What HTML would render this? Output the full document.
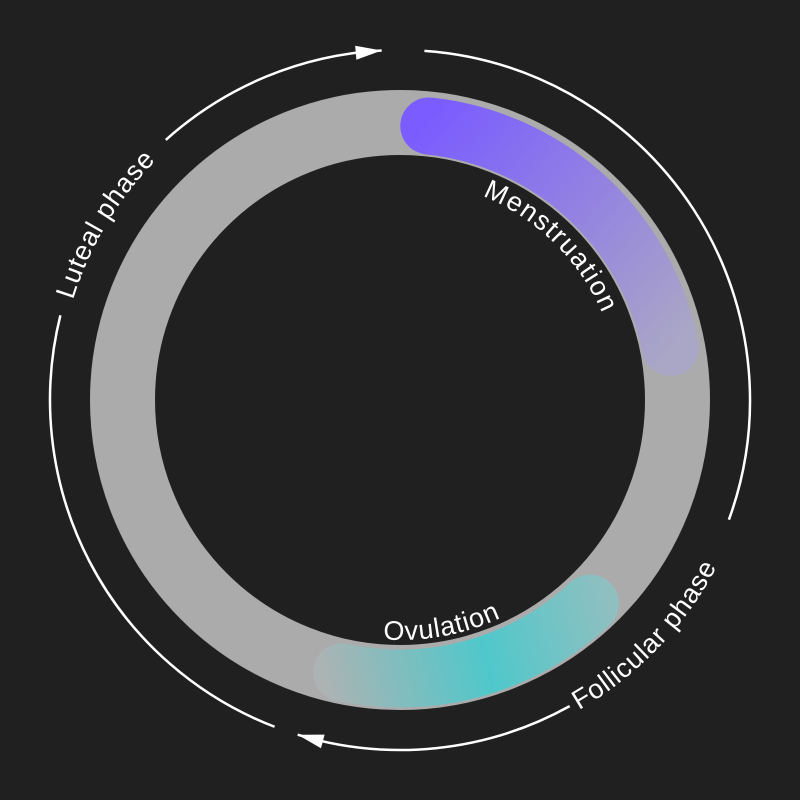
<!DOCTYPE html>
<html><head><meta charset="utf-8"><style>
html,body{margin:0;padding:0;background:#202020;}
svg{display:block;}
text{font-family:"Liberation Sans",sans-serif;fill:#fff;font-size:27px;letter-spacing:0.8px;}
</style></head><body>
<svg id="c" width="800" height="800" viewBox="0 0 800 800">
<defs>
<linearGradient id="gm" gradientUnits="userSpaceOnUse" x1="420" y1="125" x2="670" y2="350">
<stop offset="0" stop-color="#7a5cff"/><stop offset="1" stop-color="#aaa6c6"/></linearGradient>
<linearGradient id="go" gradientUnits="userSpaceOnUse" x1="320" y1="670" x2="610" y2="600">
<stop offset="0" stop-color="#adb3b3"/><stop offset="0.55" stop-color="#4fc8cb"/><stop offset="1" stop-color="#90bfc0"/></linearGradient>
</defs>
<g id="g"></g>
</svg>
<script>
// phase data: [startDeg, endDeg] clockwise from top
const ringRadii=[245,310];
const menstruation=[6,79];
const ovulation=[192,137];
const follicularArc=[[4,110],[151,197]];
const lutealArc=[[201,284],[318,357]];
const labels=["Menstruation","Ovulation","Follicular phase","Luteal phase"];
const cx=400,cy=400,NS="http://www.w3.org/2000/svg";
const g=document.getElementById('g');
function P(a,r){const t=a*Math.PI/180;return [cx+r*Math.sin(t),cy-r*Math.cos(t)];}
function arc(a0,a1,r){const p0=P(a0,r),p1=P(a1,r);const sweep=a1>a0?1:0;const large=Math.abs(a1-a0)>180?1:0;
return `M${p0[0]},${p0[1]} A${r},${r} 0 ${large} ${sweep} ${p1[0]},${p1[1]}`;}
function mk(tag,attrs){const e=document.createElementNS(NS,tag);for(const k in attrs)e.setAttribute(k,attrs[k]);g.appendChild(e);return e;}
const rm=(ringRadii[0]+ringRadii[1])/2;
let ring=mk('circle',{cx:cx,cy:cy,r:rm,fill:'none',stroke:'#ababab','stroke-width':ringRadii[1]-ringRadii[0]});


let m=mk('path',{d:arc(menstruation[0],menstruation[1],rm-2),fill:'none',stroke:'url(#gm)','stroke-width':57,'stroke-linecap':'round'});


let o=mk('path',{d:arc(ovulation[0],ovulation[1],rm+1),fill:'none',stroke:'url(#go)','stroke-width':58,'stroke-linecap':'round'});


function outer(segs,name){segs.forEach((s,i)=>{let e=mk('path',{d:arc(s[0],s[1],350),fill:'none',stroke:'#fff','stroke-width':2.5});

});
const end=segs[segs.length-1][1];const tip=P(end,350);const back=P(end-4,350);
const dx=tip[0]-back[0],dy=tip[1]-back[1],L=Math.hypot(dx,dy),ux=dx/L,uy=dy/L;
const bx=tip[0]-ux*26,by=tip[1]-uy*26;
let a=mk('polygon',{points:`${tip[0]},${tip[1]} ${bx-uy*7},${by+ux*7} ${bx+uy*7},${by-ux*7}`,fill:'#fff'});

}
outer(follicularArc,'follicular');
outer(lutealArc,'luteal');
function tp(id,d,txt,name,ls){mk('path',{id:id,d:d,fill:'none'});
const t=mk('text',{});if(ls)t.setAttribute('style','letter-spacing:'+ls+'px');const p=document.createElementNS(NS,'textPath');p.setAttribute('href','#'+id);p.textContent=txt;t.appendChild(p);

}
tp('p1',arc(22,85,220),labels[0],'menstruation-label',1.4);
tp('p2',arc(184,140,240),labels[1],'ovulation-label');
tp('p3',arc(150,100,358),labels[2],'follicular-phase-label');
tp('p4',arc(287,330,342),labels[3],'luteal-phase-label');
</script>
</body></html>
